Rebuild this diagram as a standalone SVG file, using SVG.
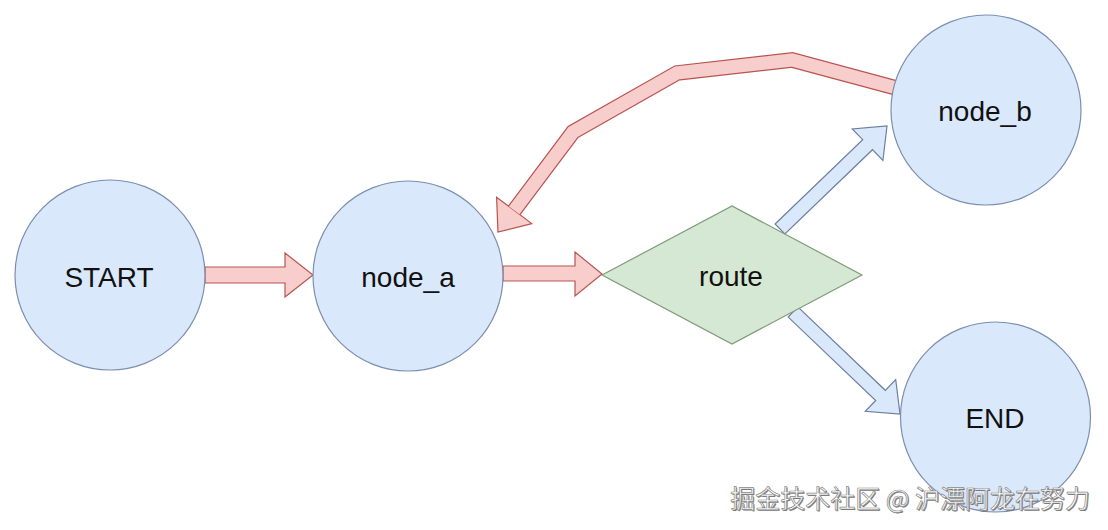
<svg xmlns="http://www.w3.org/2000/svg" width="1108" height="530" viewBox="0 0 1108 530">
  <style>
    .node { fill: #dae8fc; stroke: #7b8fb0; stroke-width: 1.2; }
    .dec { fill: #d5e8d4; stroke: #7f9b78; stroke-width: 1.2; }
    .lbl { font-family: "Liberation Sans", Arial, sans-serif; font-size: 28px; fill: #111; text-anchor: middle; }
    .red { fill: #f8cecc; stroke: #b85450; stroke-width: 1.2; stroke-linejoin: miter; }
    .blue { fill: #dae8fc; stroke: #6d7f9c; stroke-width: 1.2; stroke-linejoin: miter; }
    .wm { font-family: "Noto Sans CJK SC", "Liberation Sans", sans-serif; font-size: 25px; text-anchor: end; }
  </style>
  <rect x="0" y="0" width="1108" height="530" fill="#ffffff"/>
  <g id="connectors">
    <polygon class="red" points="205,267 285,267 285,253 313,275 285,297 285,283 205,283"/>
    <polygon class="red" points="503,266 575,266 575,252 602,274 575,296 575,281 503,281"/>
    <polygon class="blue" points="775.1,224 862.7,139.7 852.3,128.9 887,126 882.9,160.5 872.5,149.7 784.9,234"/>
    <polygon class="blue" points="797.8,306.9 885.3,390.3 895.7,379.5 900,414 865.3,411.3 875.7,400.5 788.2,317.1"/>
    <g id="loop">
      <path d="M900,89 L792,60 L677,73 L573,132 L514.2,210.4" fill="none" stroke="#b85450" stroke-width="15.6" stroke-linejoin="miter"/>
      <polygon class="red" points="531.8,223.6 498,232 496.6,197.2"/>
      <path d="M900,89 L792,60 L677,73 L573,132 L514.2,210.4" fill="none" stroke="#f8cecc" stroke-width="13.2" stroke-linejoin="miter"/>
    </g>
  </g>
  <g id="START">
    <circle class="node" cx="110" cy="275" r="95"/>
    <text class="lbl" x="109" y="287">START</text>
  </g>
  <g id="node_a">
    <circle class="node" cx="408" cy="276" r="95"/>
    <text class="lbl" x="408" y="287">node_a</text>
  </g>
  <g id="route">
    <polygon class="dec" points="602,275 732,206 862,275 732,344"/>
    <text class="lbl" x="731" y="286">route</text>
  </g>
  <g id="node_b">
    <circle class="node" cx="986" cy="110" r="95"/>
    <text class="lbl" x="985" y="121">node_b</text>
  </g>
  <g id="END">
    <circle class="node" cx="995.5" cy="417" r="95"/>
    <text class="lbl" x="995" y="428">END</text>
  </g>
  <g id="watermark">
    <text class="wm" x="1091" y="509" fill="#777777">掘金技术社区 @ 沪漂阿龙在努力</text>
    <text class="wm" x="1090" y="508" fill="#ffffff" stroke="#8a8a8a" stroke-width="0.7">掘金技术社区 @ 沪漂阿龙在努力</text>
  </g>
</svg>
